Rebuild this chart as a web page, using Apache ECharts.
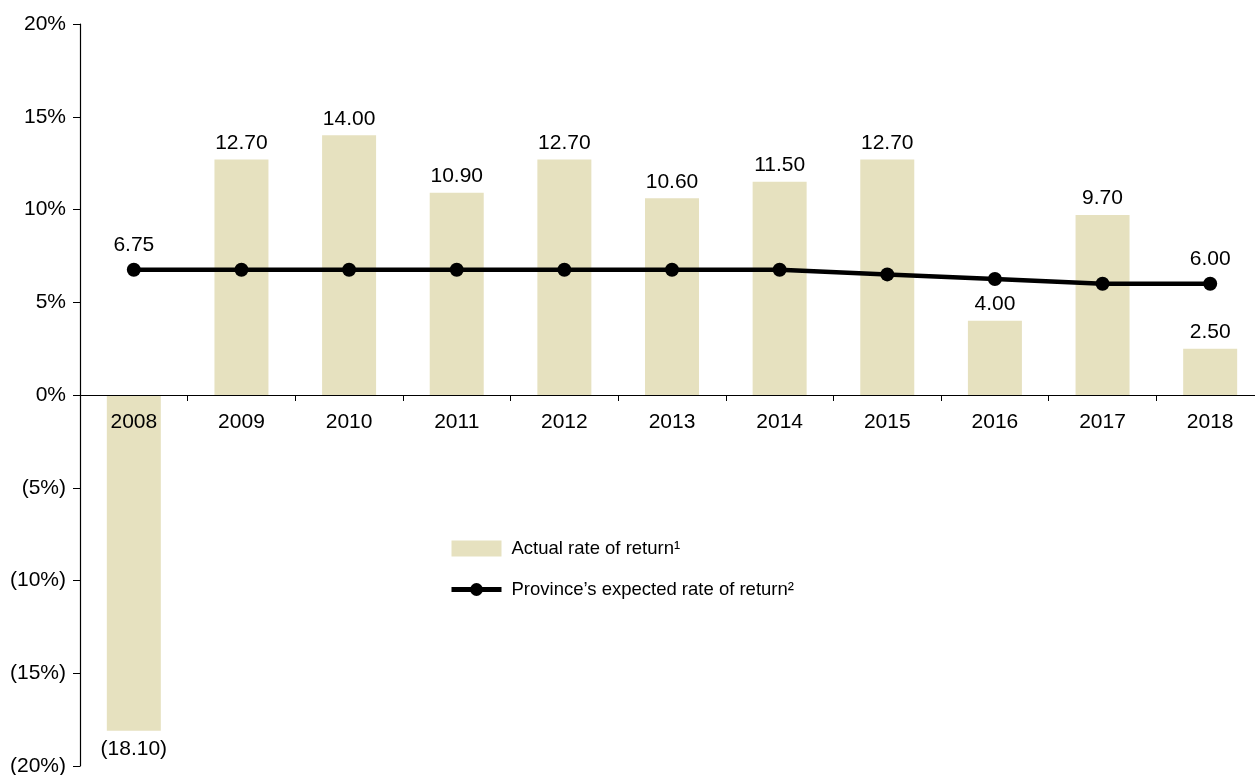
<!DOCTYPE html>
<html>
<head>
<meta charset="utf-8">
<title>Rate of return</title>
<script src="https://cdn.jsdelivr.net/npm/echarts@6/dist/echarts.min.js"></script>
<style>
  html, body { margin: 0; padding: 0; background: #ffffff; }
  #chart { width: 1255px; height: 775px; }
</style>
</head>
<body>
<div id="chart"></div>
<script>
// Fiscal years on the category axis
const years = ['2008', '2009', '2010', '2011', '2012', '2013', '2014', '2015', '2016', '2017', '2018'];
// Actual rate of return (%)
const actualReturn = [-18.10, 12.70, 14.00, 10.90, 12.70, 10.60, 11.50, 12.70, 4.00, 9.70, 2.50];
// Province's expected rate of return (%)
const expectedReturn = [6.75, 6.75, 6.75, 6.75, 6.75, 6.75, 6.75, 6.50, 6.25, 6.00, 6.00];
// Years whose expected-rate point carries a value label
const expectedLabelYears = ['2008', '2018'];
// Value axis range and step (%)
const yMin = -20, yMax = 20, yStep = 5;

const seriesNames = ['Actual rate of return\u00B9', 'Province\u2019s expected rate of return\u00B2'];

const FONT = '"Liberation Sans", Arial, sans-serif';
const LEGEND_FONT = '"Liberation Sans Narrow", "Liberation Sans", sans-serif';
const BAR_COLOR = '#e6e1bf';

// Plot area (the last category runs a little past the right edge)
const GRID = { left: 80, top: 24, width: 1184, height: 742 };
// Lift the category axis from the bottom of the plot to the zero line
const zeroOffset = -GRID.height * (0 - yMin) / (yMax - yMin);

function fmtValue(v) {
  return v < 0 ? '(' + Math.abs(v).toFixed(2) + ')' : v.toFixed(2);
}

const chart = echarts.init(document.getElementById('chart'), null, { renderer: 'canvas' });

chart.setOption({
  animation: false,
  backgroundColor: '#ffffff',
  textStyle: { fontFamily: FONT, color: '#000' },
  grid: Object.assign({ containLabel: false, outerBoundsMode: 'none' }, GRID),
  legend: {
    orient: 'vertical',
    left: 449,
    top: 539,
    padding: 0,
    itemWidth: 50,
    itemHeight: 16,
    itemGap: 22,
    textStyle: { fontFamily: LEGEND_FONT, fontSize: 18.5, color: '#000', padding: [0, 0, 0, 5] },
    data: [
      { name: seriesNames[0], icon: 'rect' },
      { name: seriesNames[1], lineStyle: { width: 5, color: '#000' }, itemStyle: { color: '#000' } }
    ]
  },
  xAxis: {
    type: 'category',
    data: years,
    offset: zeroOffset,
    z: 5,
    axisLine: { onZero: false, lineStyle: { color: '#000', width: 1.2 } },
    axisTick: { show: true, inside: false, length: 6, alignWithLabel: false, lineStyle: { color: '#000', width: 1 } },
    axisLabel: { fontFamily: FONT, fontSize: 21, color: '#000', margin: 17, hideOverlap: false },
    splitLine: { show: false }
  },
  yAxis: {
    type: 'value',
    min: yMin,
    max: yMax,
    interval: yStep,
    axisLine: { show: true, lineStyle: { color: '#000', width: 1.2 } },
    axisTick: { show: true, length: 7, lineStyle: { color: '#000', width: 1 } },
    axisLabel: {
      fontFamily: FONT, fontSize: 21, color: '#000', margin: 14,
      formatter: v => v < 0 ? '(' + Math.abs(v) + '%)' : v + '%'
    },
    splitLine: { show: false }
  },
  series: [
    {
      name: seriesNames[0],
      type: 'bar',
      barWidth: 54,
      itemStyle: { color: BAR_COLOR },
      data: actualReturn.map(v => ({
        value: v,
        label: v < 0 ? { position: 'bottom', distance: 8 } : { position: 'top', distance: 6 }
      })),
      label: {
        show: true,
        fontFamily: FONT,
        fontSize: 21,
        color: '#000',
        formatter: p => fmtValue(p.value)
      },
      z: 1
    },
    {
      name: seriesNames[1],
      type: 'line',
      symbol: 'circle',
      symbolSize: 14,
      lineStyle: { color: '#000', width: 4.5 },
      itemStyle: { color: '#000' },
      data: expectedReturn.map((v, i) => ({
        value: v,
        label: { show: expectedLabelYears.includes(years[i]) }
      })),
      label: {
        position: 'top',
        distance: 7,
        fontFamily: FONT,
        fontSize: 21,
        color: '#000',
        formatter: p => p.value.toFixed(2)
      },
      z: 3
    }
  ]
});
</script>
</body>
</html>
